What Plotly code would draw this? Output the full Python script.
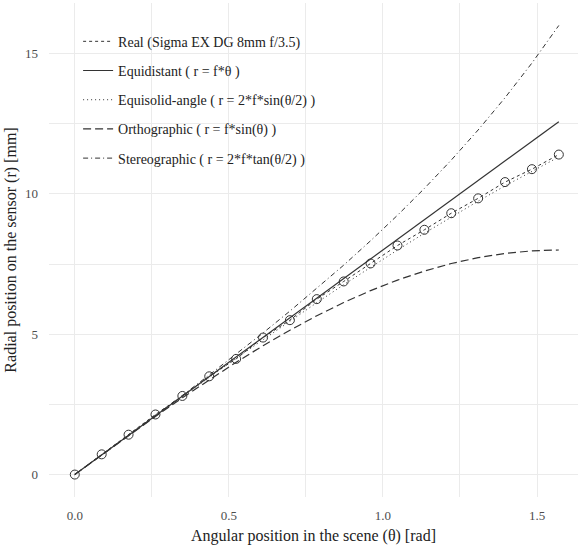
import plotly.graph_objects as go

# Angular positions, 5 degree steps (rad)
theta = [0.0, 0.0873, 0.1745, 0.2618, 0.3491, 0.4363, 0.5236, 0.6109, 0.6981,
         0.7854, 0.8727, 0.9599, 1.0472, 1.1345, 1.2217, 1.3090, 1.3963, 1.4835, 1.5708]

real_r = [0.0, 0.72, 1.42, 2.14, 2.80, 3.50, 4.12, 4.88, 5.50, 6.25, 6.88, 7.52,
          8.16, 8.72, 9.31, 9.84, 10.42, 10.88, 11.40]
equidistant_r = [0.0, 0.70, 1.40, 2.09, 2.79, 3.49, 4.19, 4.89, 5.59, 6.28, 6.98,
                 7.68, 8.38, 9.08, 9.77, 10.47, 11.17, 11.87, 12.57]
equisolid_r = [0.0, 0.698, 1.395, 2.088, 2.778, 3.463, 4.141, 4.811, 5.472, 6.123,
               6.762, 7.388, 8.0, 8.597, 9.177, 9.740, 10.285, 10.809, 11.314]
orthographic_r = [0.0, 0.697, 1.389, 2.071, 2.736, 3.381, 4.0, 4.589, 5.142, 5.657,
                  6.128, 6.553, 6.928, 7.250, 7.518, 7.727, 7.878, 7.970, 8.0]
stereographic_r = [0.0, 0.699, 1.400, 2.106, 2.821, 3.547, 4.287, 5.045, 5.824, 6.627,
                   7.461, 8.329, 9.238, 10.193, 11.203, 12.277, 13.426, 14.661, 16.0]

names = ["Real (Sigma EX DG 8mm f/3.5)", "Equidistant ( r = f*θ )",
         "Equisolid-angle ( r = 2*f*sin(θ/2) )", "Orthographic ( r = f*sin(θ) )",
         "Stereographic ( r = 2*f*tan(θ/2) )"]

x_ticks = [0.0, 0.5, 1.0, 1.5]
x_ticklabels = ["0.0", "0.5", "1.0", "1.5"]
y_ticks = [0, 5, 10, 15]
y_ticklabels = ["0", "5", "10", "15"]

ink = "#333333"
fig = go.Figure()

fig.add_trace(go.Scatter(x=theta, y=real_r, mode="lines", name=names[0], legendgroup="a",
                         line=dict(color=ink, width=1, dash="3px,3px")))
fig.add_trace(go.Scatter(x=theta, y=equidistant_r, mode="lines", name=names[1], legendgroup="b",
                         line=dict(color=ink, width=1.2)))
fig.add_trace(go.Scatter(x=theta, y=equisolid_r, mode="lines", name=names[2], legendgroup="c",
                         line=dict(color=ink, width=1, dash="1px,3px")))
fig.add_trace(go.Scatter(x=theta, y=orthographic_r, mode="lines", name=names[3], legendgroup="d",
                         line=dict(color=ink, width=1.2, dash="8px,4px")))
fig.add_trace(go.Scatter(x=theta, y=stereographic_r, mode="lines", name=names[4], legendgroup="e",
                         line=dict(color=ink, width=1, dash="5px,3px,1px,3px")))
fig.add_trace(go.Scatter(x=theta, y=real_r, mode="markers", showlegend=False,
                         marker=dict(symbol="circle-open", size=9, color=ink,
                                     line=dict(width=1, color=ink))))

font_family = "Liberation Serif, Times New Roman, serif"
grid = "#ebebeb"

fig.update_layout(
    width=578, height=550,
    margin=dict(l=49, r=0, t=3, b=53),
    paper_bgcolor="white", plot_bgcolor="white",
    font=dict(family=font_family, color="#333333", size=13),
    legend=dict(x=0.055, y=0.954, xanchor="left", yanchor="top",
                bgcolor="rgba(0,0,0,0)", font=dict(size=14, family=font_family, color="#222222"),
                itemwidth=30, tracegroupgap=8),
    xaxis=dict(range=[-0.0837, 1.633], tickvals=x_ticks, ticktext=x_ticklabels,
               showgrid=True, gridcolor=grid, gridwidth=1.2, zeroline=False,
               showline=False, ticks="", tickfont=dict(size=13, color="#4d4d4d"),
               ticklabelstandoff=9,
               minor=dict(dtick=0.25, tick0=0, showgrid=True, gridcolor=grid, gridwidth=0.7),
               title=dict(text="Angular position in the scene (θ) [rad]",
                          font=dict(size=16, color="#222222"), standoff=7),
               automargin=False),
    yaxis=dict(range=[-0.8, 16.8], tickvals=y_ticks, ticktext=y_ticklabels,
               showgrid=True, gridcolor=grid, gridwidth=1.2, zeroline=False,
               showline=False, ticks="", tickfont=dict(size=13, color="#4d4d4d"),
               ticklabelstandoff=10,
               minor=dict(dtick=2.5, tick0=0, showgrid=True, gridcolor=grid, gridwidth=0.7),
               title=dict(text="Radial position on the sensor (r) [mm]",
                          font=dict(size=16, color="#222222"), standoff=4),
               automargin=False),
)

fig.write_html("out.html", config={"displayModeBar": False},
               post_script="document.body.style.margin='0';")
